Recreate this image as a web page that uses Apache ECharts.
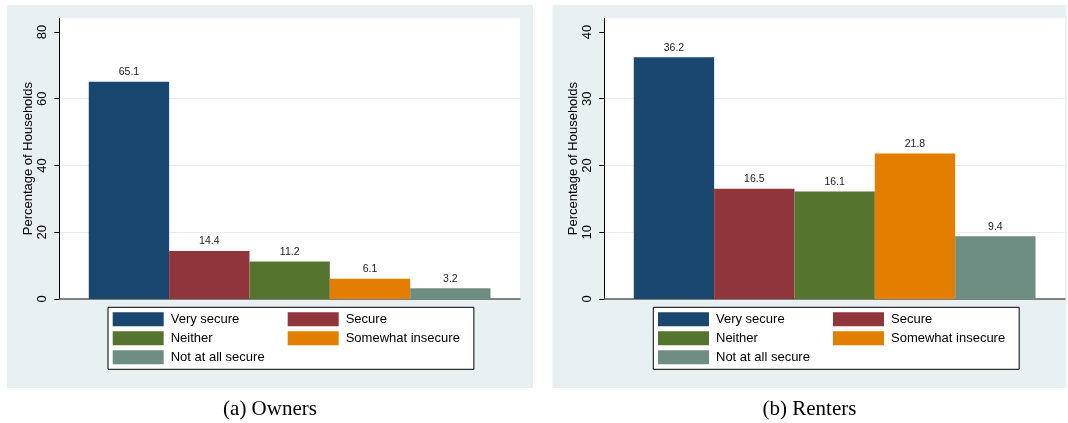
<!DOCTYPE html>
<html>
<head>
<meta charset="utf-8">
<script src="https://cdn.jsdelivr.net/npm/echarts@6/dist/echarts.min.js"></script>
<style>
  html, body { margin: 0; padding: 0; background: #ffffff; }
  #chart { width: 1068px; height: 423px; }
</style>
</head>
<body>
<div id="chart"></div>
<script>
// Housing security responses, percentage of households
const categories = ['Very secure', 'Secure', 'Neither', 'Somewhat insecure', 'Not at all secure'];
const ownersValues = [65.1, 14.4, 11.2, 6.1, 3.2];
const rentersValues = [36.2, 16.5, 16.1, 21.8, 9.4];
const ownersTicks = [0, 20, 40, 60, 80];
const rentersTicks = [0, 10, 20, 30, 40];
const barColors = ['#1a476f', '#90353b', '#55752f', '#e37e00', '#6e8e84'];
const captions = ['(a) Owners', '(b) Renters'];
const yTitle = 'Percentage of Households';

const SANS = '"Liberation Sans", Arial, Helvetica, sans-serif';
const SERIF = '"Liberation Serif", "Times New Roman", serif';
const PANEL_BG = '#e9f0f2';
const GRID_LINE = '#e4edf0';

const panels = [
  { values: ownersValues, ticks: ownersTicks, max: 84.1, gridLeft: 59.3, legendLeft: 108, bg: [7, 526], caption: captions[0] },
  { values: rentersValues, ticks: rentersTicks, max: 42.05, gridLeft: 604.3, legendLeft: 653.3, bg: [552.5, 514], caption: captions[1] }
];

const grid = [], xAxis = [], yAxis = [], series = [], legend = [], graphic = [];

panels.forEach((p, i) => {
  // panel background and caption underneath
  graphic.push({
    type: 'rect', z: -10, silent: true,
    shape: { x: p.bg[0], y: 5, width: p.bg[1], height: 383 },
    style: { fill: PANEL_BG }
  });
  graphic.push({
    type: 'text', silent: true,
    x: p.bg[0] + p.bg[1] / 2, y: 409,
    style: { text: p.caption, font: '21px ' + SERIF, fill: '#000', align: 'center', verticalAlign: 'middle' }
  });

  grid.push({
    left: p.gridLeft, top: 18.3, width: 460.7, height: 280.7,
    show: true, backgroundColor: '#ffffff', borderWidth: 0
  });

  xAxis.push({
    type: 'category', gridIndex: i, data: [''],
    axisLine: { show: true, lineStyle: { color: '#5c5c5c', width: 1.5 } },
    axisTick: { show: false }, axisLabel: { show: false }, splitLine: { show: false }
  });

  const step = p.ticks[1] - p.ticks[0];
  yAxis.push({
    type: 'value', gridIndex: i, min: 0, max: p.max, interval: step,
    name: yTitle, nameLocation: 'middle', nameRotate: 90, nameGap: 22,
    nameTextStyle: { fontFamily: SANS, fontSize: 13, color: '#000' },
    axisLine: { show: true, lineStyle: { color: '#000', width: 1 } },
    axisTick: { show: true, length: 5, customValues: p.ticks, lineStyle: { color: '#000', width: 1 } },
    axisLabel: { rotate: 90, margin: 10, customValues: p.ticks, fontFamily: SANS, fontSize: 13, color: '#000' },
    splitLine: { show: true, showMinLine: false, showMaxLine: false, lineStyle: { color: GRID_LINE, width: 1 } }
  });

  categories.forEach((name, k) => {
    series.push({
      type: 'bar', name, xAxisIndex: i, yAxisIndex: i,
      data: [p.values[k]],
      barGap: '0%', barCategoryGap: '12.8%',
      itemStyle: { color: barColors[k] },
      label: {
        show: true, position: 'top', distance: 4,
        fontFamily: SANS, fontSize: 10.5, color: '#222',
        formatter: (d) => d.value.toFixed(1)
      },
      emphasis: { disabled: true }
    });
  });

  legend.push({
    data: categories, selectedMode: false,
    left: p.legendLeft, top: 307.3, width: 350,
    orient: 'horizontal', icon: 'rect',
    itemWidth: 51, itemHeight: 14, itemGap: 5,
    padding: [5, 14, 5, 4.7],
    backgroundColor: '#ffffff', borderColor: '#000', borderWidth: 1, borderRadius: 0,
    textStyle: { fontFamily: SANS, fontSize: 13, color: '#000', width: 112, lineHeight: 14, padding: [0, 0, 0, 2] }
  });
});

const chart = echarts.init(document.getElementById('chart'), null, { renderer: 'canvas' });
chart.setOption({
  animation: false,
  backgroundColor: '#ffffff',
  color: barColors,
  grid, xAxis, yAxis, series, legend, graphic
});
</script>
</body>
</html>
